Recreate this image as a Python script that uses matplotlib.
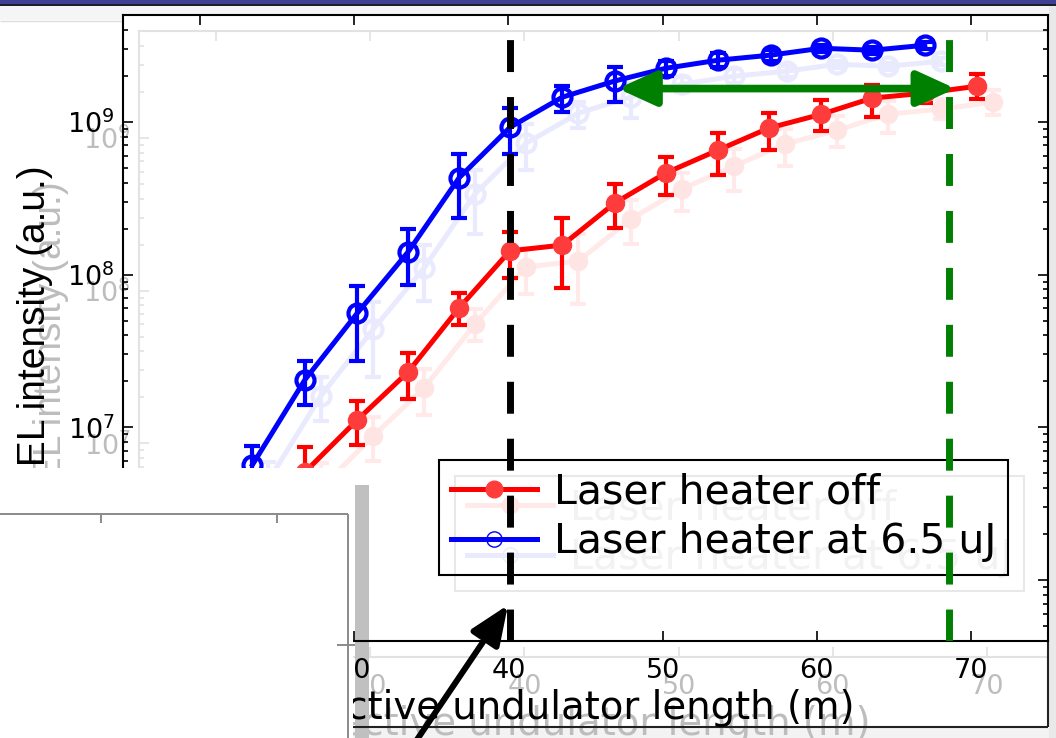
import matplotlib
matplotlib.use("Agg")
import matplotlib.pyplot as plt
from matplotlib.lines import Line2D
from matplotlib.patches import Rectangle, FancyArrowPatch
from matplotlib.ticker import LogLocator, NullFormatter

plt.rcParams['font.family'] = 'DejaVu Sans'

# active undulator length (m) and FEL intensity (a.u.)
z_off = [26.8, 30.2, 33.5, 36.8, 40.1, 43.5, 46.9, 50.2, 53.6, 56.9, 60.3, 63.6, 67.0, 70.4]
i_off = [5.1e6, 1.12e7, 2.31e7, 6.05e7, 1.43e8, 1.56e8, 2.94e8, 4.62e8, 6.53e8, 9.1e8, 1.12e9, 1.43e9, 1.54e9, 1.71e9]
i_off_hi = [7.4e6, 1.49e7, 3.08e7, 7.6e7, 1.9e8, 2.35e8, 3.92e8, 5.88e8, 8.4e8, 1.14e9, 1.39e9, 1.74e9, 1.79e9, 2.05e9]
i_off_lo = [3.5e6, 7.7e6, 1.54e7, 4.69e7, 9.5e7, 8.2e7, 2.02e8, 3.32e8, 4.49e8, 6.53e8, 8.7e8, 1.07e9, 1.33e9, 1.41e9]

z_lh = [23.4, 26.8, 30.2, 33.5, 36.8, 40.1, 43.5, 46.9, 50.2, 53.6, 57.0, 60.3, 63.6, 67.0]
i_lh = [5.7e6, 2.05e7, 5.6e7, 1.41e8, 4.3e8, 9.2e8, 1.45e9, 1.85e9, 2.24e9, 2.53e9, 2.73e9, 3.03e9, 2.94e9, 3.17e9]
i_lh_hi = [7.5e6, 2.7e7, 8.4e7, 2.0e8, 6.15e8, 1.23e9, 1.71e9, 2.28e9, 2.5e9, 2.8e9, 2.95e9, 3.2e9, 3.1e9, 3.35e9]
i_lh_lo = [4.3e6, 1.4e7, 2.7e7, 8.6e7, 2.35e8, 6.2e8, 1.16e9, 1.35e9, 2.0e9, 2.3e9, 2.5e9, 2.85e9, 2.78e9, 3.0e9]

labels = ['Laser heater off', 'Laser heater at 6.5 uJ']
x_ticks = [20, 30, 40, 50, 60, 70]

z_saturation_lh = 40.1
z_saturation_off = 68.6
arrow_level = 1.65e9
arrow_from, arrow_to = 47.1, 69.0

W, H = 1056, 738


def fx(px):
    return px / W


def fy(py):
    return 1 - py / H


def fig_rect(x0, y0, x1, y1, color, z):
    fig.add_artist(Rectangle((fx(x0), fy(y1)), fx(x1) - fx(x0), fy(y0) - fy(y1),
                             transform=fig.transFigure, facecolor=color,
                             edgecolor='none', zorder=z))


def fig_line(xs, ys, color, lw, z):
    fig.add_artist(Line2D([fx(x) for x in xs], [fy(y) for y in ys],
                          transform=fig.transFigure, color=color, lw=lw,
                          zorder=z, solid_capstyle='butt'))


def draw_panel(ax, red, red_mk, blue, text_c, frame_c, leg_text_c, leg_frame_c):
    ax.errorbar(z_off, i_off,
                yerr=[[a - b for a, b in zip(i_off, i_off_lo)],
                      [b - a for a, b in zip(i_off, i_off_hi)]],
                fmt='-o', color=red, mfc=red_mk, mec=red_mk, lw=3.6, ms=13,
                elinewidth=3, capsize=5.5, capthick=3, zorder=3)
    ax.errorbar(z_lh, i_lh,
                yerr=[[a - b for a, b in zip(i_lh, i_lh_lo)],
                      [b - a for a, b in zip(i_lh, i_lh_hi)]],
                fmt='-o', color=blue, mfc='none', mec=blue, mew=3, lw=3.6, ms=13,
                elinewidth=3, capsize=5.5, capthick=3, zorder=3)

    ax.set_yscale('log')
    ax.set_xlim(15, 75)
    ax.set_ylim(4e5, 5e9)
    ax.set_xticks(x_ticks)
    ax.yaxis.set_major_locator(LogLocator(base=10, numticks=10))
    ax.yaxis.set_minor_locator(LogLocator(base=10, subs=range(2, 10), numticks=20))
    ax.yaxis.set_minor_formatter(NullFormatter())
    ax.tick_params(which='both', direction='in', top=True, right=True,
                   color=frame_c, labelcolor=text_c, labelsize=19.5, width=1.2)
    ax.tick_params(which='major', length=7.2)
    ax.tick_params(which='minor', length=3.6)
    ax.tick_params(axis='x', pad=12)
    ax.tick_params(axis='y', pad=6)
    for s in ax.spines.values():
        s.set_color(frame_c)
        s.set_linewidth(1.5)

    ax.set_xlabel('Effective undulator length (m)', fontsize=27.8, color=text_c)
    ax.xaxis.set_label_coords(0.476, -0.077)
    ax.set_ylabel('FEL intensity (a.u.)', fontsize=28, color=text_c,
                  family='Liberation Sans')
    ax.yaxis.set_label_coords(-0.076, 0.5)

    handles = [Line2D([], [], color=red, lw=3.6, marker='o', ms=12,
                      mfc=red_mk, mec=red_mk),
               Line2D([], [], color=blue, lw=3.6, marker='o', ms=11,
                      mfc='none', mec=blue, mew=1)]
    leg = ax.legend(handles, labels, loc='upper left',
                    bbox_to_anchor=((439 - 123) / 925, (641 - 460) / 626),
                    borderaxespad=0, fontsize=29.5, frameon=True, fancybox=False,
                    framealpha=1, facecolor='none', edgecolor=leg_frame_c,
                    borderpad=0.3, labelspacing=0.245, handlelength=2.1,
                    handletextpad=0.4)
    leg.get_frame().set_linewidth(1.5)
    leg.set_zorder(5)
    for t in leg.get_texts():
        t.set_color(leg_text_c)


fig = plt.figure(figsize=(10.56, 7.38), dpi=100)

# faded copy of the slide underneath, shifted down-right
ghost = fig.add_axes([fx(139), fy(657), 925 / W, 626 / H], zorder=0.3)
ghost.set_facecolor('white')
draw_panel(ghost, '#ffe9e9', '#ffe4e4', '#eaeaff', '#bdbdbd', '#e2e2e2',
           '#f2f2f2', '#e8e8e8')

ax = fig.add_axes([fx(123), fy(641), 925 / W, 626 / H], zorder=1)
ax.set_facecolor('none')
draw_panel(ax, 'red', '#ff3c3c', 'blue', 'black', 'black', 'black', 'black')

# saturation markers
ax.plot([z_saturation_lh, z_saturation_lh], [4e5, 5e9], color='black', lw=5,
        linestyle=(0, (4.6, 3.6)), zorder=6)
ax.plot([z_saturation_off, z_saturation_off], [4e5, 5e9], color='green', lw=5,
        linestyle=(0, (4.6, 3.6)), zorder=6)
ax.add_patch(FancyArrowPatch((arrow_from, arrow_level), (arrow_to, arrow_level),
                             arrowstyle='<|-|>,head_length=23,head_width=10.5',
                             mutation_scale=1, lw=5.5, color='green',
                             shrinkA=0, shrinkB=0, zorder=7))
ax.set_ylim(4e5, 5e9)

# slide furniture around the picture
fig_rect(0, 0, W, 4, '#3f3f96', 0.4)
fig_rect(0, 4, W, 6, '#1e1e2e', 0.4)
fig_rect(0, 6, W, 15, '#f5f5f5', 0.4)
fig_rect(0, 15, 123, 20, '#f5f5f5', 0.4)
fig_line([0, 123], [20.5, 20.5], '#dddddd', 1, 0.41)
fig_rect(1049, 6, W, H, '#e9e9e9', 0.45)
fig_rect(353, 728, W, H, '#f3f3f3', 0.2)
fig_line([353, 1048], [727, 727], '#222222', 1.5, 0.9)
fig_line([1048, 1048], [641, 727], '#222222', 1.5, 0.9)
fig_rect(355, 485, 369, H, '#c0c0c0', 0.5)

# white panel pasted over the lower left
fig_rect(0, 468, 353, H, 'white', 2)
fig_line([0, 348], [514, 514], '#8a8a8a', 1.4, 2.1)
fig_line([348, 348], [514, H], '#8a8a8a', 1.4, 2.1)
fig_line([101, 101], [514, 523], '#8a8a8a', 1.4, 2.1)
fig_line([277, 277], [514, 523], '#8a8a8a', 1.4, 2.1)
fig_line([337, 355], [645, 645], '#8a8a8a', 1.4, 2.1)

fig.add_artist(FancyArrowPatch((fx(410), fy(750)), (fx(508), fy(605)),
                               transform=fig.transFigure,
                               arrowstyle='-|>,head_length=24,head_width=10',
                               mutation_scale=1, lw=4.3, color='black',
                               shrinkA=0, shrinkB=0, zorder=3))

plt.savefig('out.png', dpi=100)
plt.close()
